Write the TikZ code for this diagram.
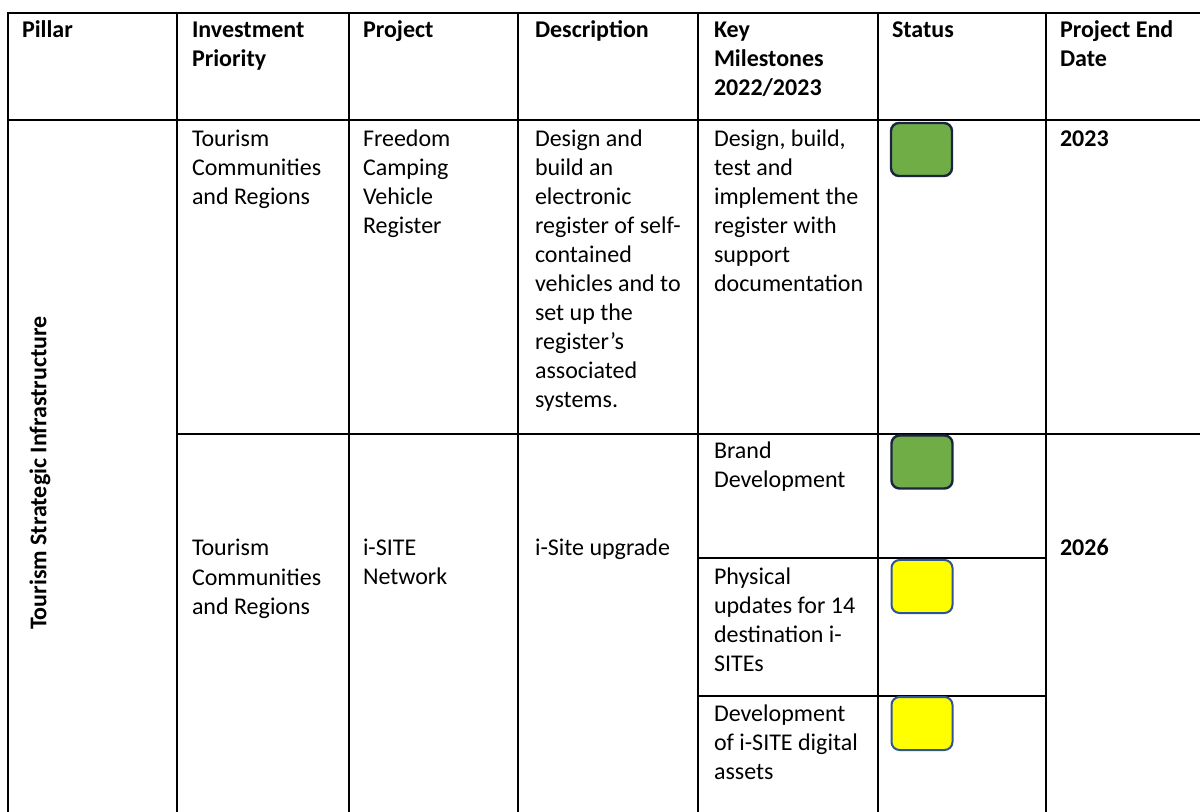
\documentclass[tikz,border=0pt]{standalone}
\usepackage{fontspec}
\setmainfont{Carlito}
\definecolor{doneGreen}{HTML}{70AD47}
\definecolor{doneEdge}{HTML}{1A2440}
\definecolor{workYellow}{HTML}{FFFF00}
\definecolor{workEdge}{HTML}{2F5597}
\begin{document}
\begin{tikzpicture} [x=0.5pt,y=-0.5pt,
		rule/.style={line width=1pt,line cap=rect},
		every node/.style={inner sep=0pt,outer sep=0pt},
		cell/.style={anchor=base west,align=left,
			font=\fontsize{12}{14.5}\selectfont},
		head cell/.style={cell,font=\fontsize{12}{14.5}\selectfont\bfseries},
		lines/.style={yshift=-(#1-1)*14.5pt},
		status/.style={rounded corners=4pt,minimum width=30.5pt,minimum height=26.5pt},
		status done/.style={status,draw=doneEdge,line width=1.2pt,fill=doneGreen},
		status work/.style={status,draw=workEdge,line width=1pt,fill=workYellow}]

	\useasboundingbox (0,0) rectangle (1200,812);

	% table rules
	\draw [rule] (8,13) -- (1200,13);
	\draw [rule] (8,120) -- (1200,120);
	\draw [rule] (177,434) -- (1200,434);
	\draw [rule] (698,558) -- (1046,558);
	\draw [rule] (698,696) -- (1046,696);
	\foreach \x in {8,177,349,518,698,878,1046}
		\draw [rule] (\x,13) -- (\x,812);

	% header
	\node [head cell] (head-pillar) at (22,38) {Pillar};
	\node [head cell,lines=2] (head-priority) at (192,38) {Investment\\Priority};
	\node [head cell] (head-project) at (363,38) {Project};
	\node [head cell] (head-descr) at (535,38) {Description};
	\node [head cell,lines=3] (head-milestones) at (714,38) {Key\\Milestones\\2022/2023};
	\node [head cell] (head-status) at (892,38) {Status};
	\node [head cell,lines=2] (head-end) at (1060,38) {Project End\\Date};

	% pillar
	\node [rotate=90,font=\fontsize{12}{14.5}\selectfont\bfseries] (pillar-tsi) at (40,473)
		{Tourism Strategic Infrastructure};

	% freedom camping row
	\node [cell,lines=3] (fc-priority) at (192,147) {Tourism\\Communities\\and Regions};
	\node [cell,lines=4] (fc-project) at (363,147) {Freedom\\Camping\\Vehicle\\Register};
	\node [cell,lines=10] (fc-descr) at (535,147) {Design and\\build an\\electronic\\register of self-\\contained\\vehicles and to\\set up the\\register’s\\associated\\systems.};
	\node [cell,lines=6] (fc-milestone) at (714,147) {Design, build,\\test and\\implement the\\register with\\support\\documentation};
	\node [status done] (fc-status) at (921.5,149.5) {};
	\node [head cell] (fc-end) at (1060,147) {2023};

	% i-SITE row
	\node [cell,lines=3] (is-priority) at (192,556) {Tourism\\Communities\\and Regions};
	\node [cell,lines=2] (is-project) at (363,556) {i-SITE\\Network};
	\node [cell] (is-descr) at (535,556) {i-Site upgrade};
	\node [cell,lines=2] (is-brand) at (714,459) {Brand\\Development};
	\node [status done] (is-brand-status) at (922,462) {};
	\node [cell,lines=4] (is-physical) at (714,584) {Physical\\updates for 14\\destination i-\\SITEs};
	\node [status work] (is-physical-status) at (922,586.5) {};
	\node [cell,lines=3] (is-digital) at (714,721) {Development\\of i-SITE digital\\assets};
	\node [status work] (is-digital-status) at (922,723.5) {};
	\node [head cell] (is-end) at (1060,556) {2026};
\end{tikzpicture}
\end{document}
